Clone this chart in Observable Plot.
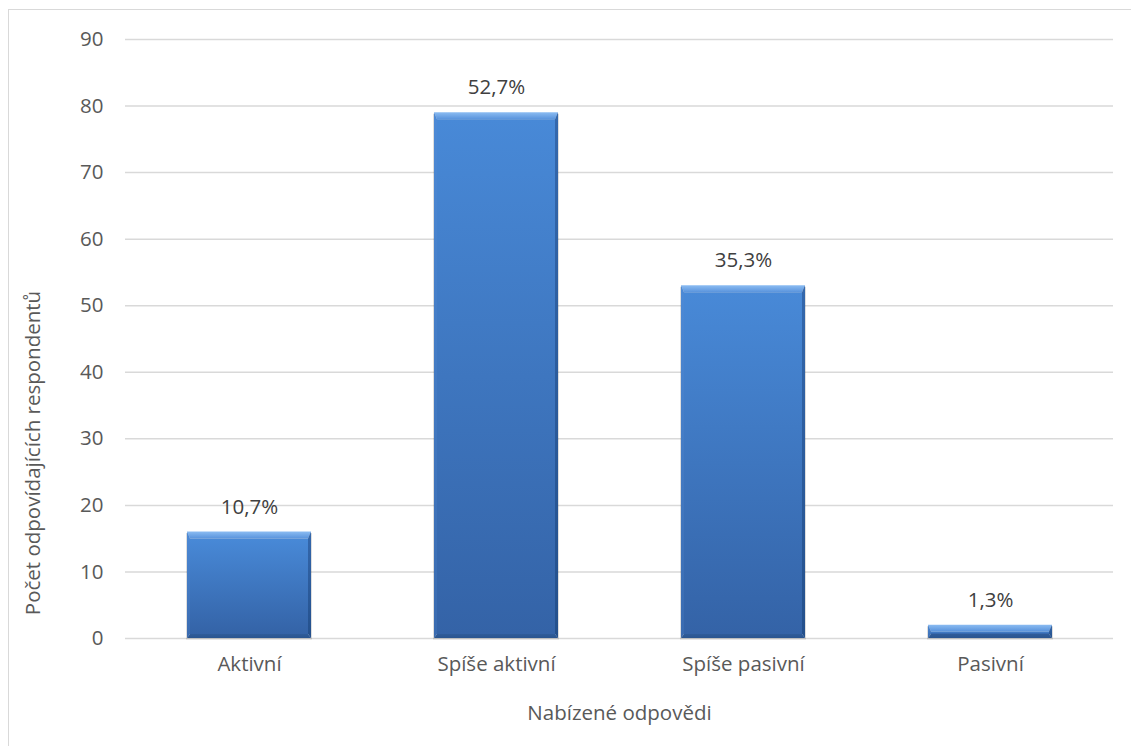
<!DOCTYPE html>
<html>
<head>
<meta charset="utf-8">
<script src="https://cdn.jsdelivr.net/npm/d3@7"></script>
<script src="https://cdn.jsdelivr.net/npm/@observablehq/plot@0.6"></script>
<style>
  body { margin: 0; background: #fff; }
  #chart { position: relative; width: 1131px; height: 746px; overflow: hidden; }
  #chart svg { position: absolute; left: 0; top: 0; }
  #frame {
    position: absolute; left: 8px; top: 9px; width: 1200px; height: 800px;
    border: 1.5px solid #d9d9d9; box-sizing: border-box; pointer-events: none;
  }
</style>
</head>
<body>
<div id="chart"><div id="frame"></div></div>
<script>
// Survey answers and number of respondents per answer
const categories = ["Aktivní", "Spíše aktivní", "Spíše pasivní", "Pasivní"];
const counts = [16, 79, 53, 2];
const yTicks = [0, 10, 20, 30, 40, 50, 60, 70, 80, 90];
const xTitle = "Nabízené odpovědi";
const yTitle = "Počet odpovídajících respondentů";

// Share of all respondents, written with a decimal comma
const total = d3.sum(counts);
const data = categories.map((category, i) => ({
  category,
  count: counts[i],
  label: (counts[i] / total * 100).toFixed(1).replace(".", ",") + "%"
}));

// Vertical gradients used by the bevelled bars
const gradients = [
  ["barFace", "#4889d7", "#3463a7"],
  ["bevelTop", "#8bbcf2", "#5993dc"],
  ["bevelLeft", "#4d8ad6", "#3a6bb0"],
  ["bevelRight", "#3468ad", "#24508c"],
  ["bevelBottom", "#2f5c9a", "#2a5590"]
];
const defs = () => {
  const d = d3.create("svg:defs");
  for (const [id, c0, c1] of gradients) {
    const g = d.append("linearGradient").attr("id", id)
      .attr("x1", 0).attr("y1", 0).attr("x2", 0).attr("y2", 1);
    g.append("stop").attr("offset", "0%").attr("stop-color", c0);
    g.append("stop").attr("offset", "100%").attr("stop-color", c1);
  }
  return d.node();
};

// Turns each plain bar rect into a face with four bevelled edges
function bevel(index, scales, values, dimensions, context, next) {
  const g = next(index, scales, values, dimensions, context);
  const sel = d3.select(g);
  const T = 7, L = 3, R = 3, B = 4;
  sel.selectAll("rect").each(function () {
    const r = d3.select(this);
    const x0 = +r.attr("x"), y0 = +r.attr("y");
    const x1 = x0 + +r.attr("width"), y1 = y0 + +r.attr("height");
    const t = Math.min(T, (y1 - y0) * 0.5), b = Math.min(B, (y1 - y0) * 0.3);
    const pts = (a) => a.map((p) => p.join(",")).join(" ");
    sel.append("rect").attr("x", x0 + L).attr("y", y0 + t)
      .attr("width", Math.max(0, x1 - x0 - L - R)).attr("height", Math.max(0, y1 - y0 - t - b))
      .attr("fill", "url(#barFace)");
    sel.append("polygon").attr("fill", "url(#bevelTop)")
      .attr("points", pts([[x0, y0], [x1, y0], [x1 - R, y0 + t], [x0 + L, y0 + t]]));
    sel.append("polygon").attr("fill", "url(#bevelLeft)")
      .attr("points", pts([[x0, y0], [x0 + L, y0 + t], [x0 + L, y1 - b], [x0, y1]]));
    sel.append("polygon").attr("fill", "url(#bevelRight)")
      .attr("points", pts([[x1, y0], [x1, y1], [x1 - R, y1 - b], [x1 - R, y0 + t]]));
    sel.append("polygon").attr("fill", "url(#bevelBottom)")
      .attr("points", pts([[x0, y1], [x0 + L, y1 - b], [x1 - R, y1 - b], [x1, y1]]));
    r.remove();
  });
  return g;
}

const font = "'Open Sans', sans-serif";

const chart = Plot.plot({
  width: 1131,
  height: 746,
  marginLeft: 125,
  marginRight: 18,
  marginTop: 39,
  marginBottom: 108,
  style: { fontFamily: font, fontSize: "20.5px", color: "#595959", background: "transparent" },
  x: { domain: categories, paddingInner: 0.5, paddingOuter: 0.25, label: null },
  y: { domain: [0, 90], label: null },
  marks: [
    defs,
    Plot.gridY(yTicks, { stroke: "#d9d9d9", strokeOpacity: 1, strokeWidth: 1.5 }),
    Plot.axisY(yTicks, { tickSize: 0, tickPadding: 22, fill: "#595959", label: null }),
    Plot.axisX({ tickSize: 0, tickPadding: 18, fill: "#595959", label: null }),
    // soft shadow around each bar
    Plot.barY(data, { x: "category", y: "count", fill: "#000", fillOpacity: 0.13, dy: 1.5,
      insetLeft: -1, insetRight: -1 }),
    // bevelled bars
    Plot.barY(data, { x: "category", y: "count", fill: "#3f7acb", render: bevel }),
    // percentage labels
    Plot.text(data, { x: "category", y: "count", text: "label", dy: -25,
      lineAnchor: "middle", fill: "#404040", fontSize: 20.5 }),
    // axis titles
    Plot.text([xTitle], { frameAnchor: "bottom", dy: 75, lineAnchor: "middle",
      fill: "#595959", fontSize: 20.5 }),
    Plot.text([yTitle], { frameAnchor: "left", dx: -92, dy: 114, rotate: -90, textAnchor: "middle",
      lineAnchor: "middle", fill: "#595959", fontSize: 20.5 })
  ]
});

document.getElementById("chart").insertBefore(chart, document.getElementById("frame"));
</script>
</body>
</html>
